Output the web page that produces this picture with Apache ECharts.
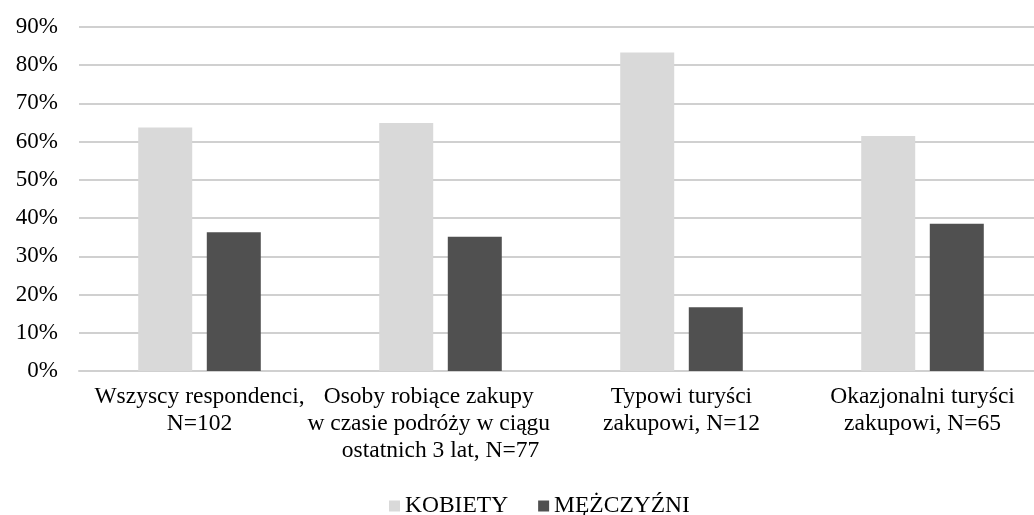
<!DOCTYPE html>
<html>
<head>
<meta charset="utf-8">
<script src="https://cdn.jsdelivr.net/npm/echarts@6/dist/echarts.min.js"></script>
<style>
  html, body { margin: 0; padding: 0; background: #fff; overflow: hidden; }
  #chart { width: 1043px; height: 515px; }
</style>
</head>
<body>
<div id="chart"></div>
<script>
const categories = [
  "Wszyscy respondenci,\nN=102",
  "Osoby robiące zakupy    \nw czasie podróży w ciągu    \nostatnich 3 lat, N=77",
  "Typowi turyści\nzakupowi, N=12",
  "Okazjonalni turyści\nzakupowi, N=65"
];
const seriesNames = ["KOBIETY", "MĘŻCZYŹNI"];
const kobiety = [63.7, 64.9, 83.3, 61.5];
const mezczyzni = [36.3, 35.1, 16.7, 38.5];
const yTicks = { min: 0, max: 90, interval: 10 };

const FONT = "'Liberation Serif', 'Times New Roman', serif";
const chart = echarts.init(document.getElementById('chart'), null, { renderer: 'canvas' });
chart.setOption({
  animation: false,
  backgroundColor: '#ffffff',
  textStyle: { fontFamily: FONT },
  grid: { left: 79, top: 27, right: 0, height: 344, containLabel: false },
  legend: {
    data: seriesNames,
    left: 384,
    top: 489,
    icon: 'rect',
    itemWidth: 11,
    itemHeight: 11,
    itemGap: 30,
    textStyle: { fontFamily: FONT, fontSize: 23.5, color: '#000' }
  },
  xAxis: {
    type: 'category',
    data: categories,
    axisTick: { show: false },
    axisLine: { show: true, lineStyle: { color: '#d0d0d0', width: 2 } },
    axisLabel: {
      interval: 0,
      margin: 12,
      fontFamily: FONT,
      fontSize: 23.5,
      lineHeight: 27,
      color: '#000'
    }
  },
  yAxis: {
    type: 'value',
    min: yTicks.min,
    max: yTicks.max,
    interval: yTicks.interval,
    axisLine: { show: false },
    axisTick: { show: false },
    splitLine: { lineStyle: { color: '#d0d0d0', width: 2 } },
    axisLabel: {
      formatter: '{value}%',
      margin: 21,
      fontFamily: FONT,
      fontSize: 23,
      color: '#000'
    }
  },
  series: [
    {
      name: seriesNames[0],
      type: 'bar',
      data: kobiety,
      barWidth: 54,
      barGap: '27%',
      itemStyle: { color: '#d9d9d9' }
    },
    {
      name: seriesNames[1],
      type: 'bar',
      data: mezczyzni,
      barWidth: 54,
      barGap: '27%',
      itemStyle: { color: '#505050' }
    }
  ]
});
</script>
</body>
</html>
